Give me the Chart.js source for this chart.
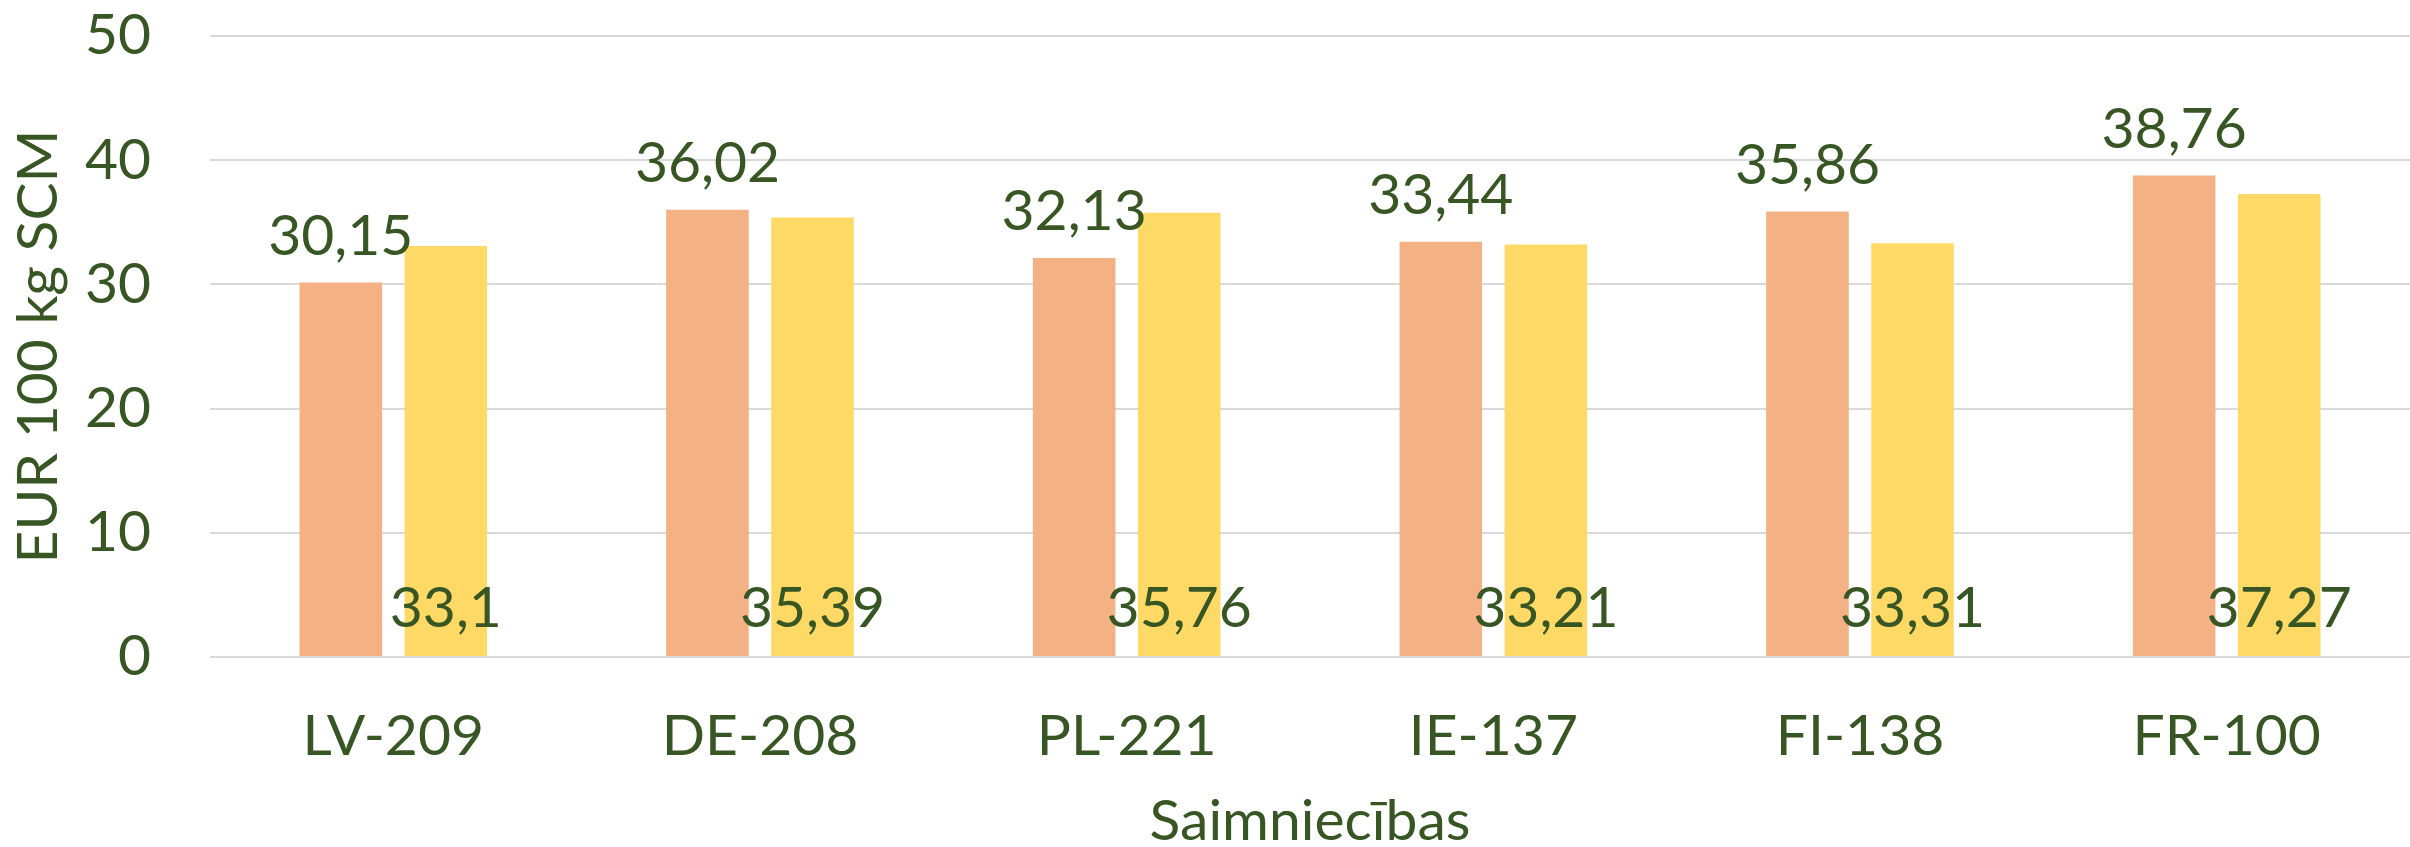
<!DOCTYPE html>
<html>
<head>
<meta charset="utf-8">
<script src="https://cdn.jsdelivr.net/npm/chart.js@4"></script>
<style>
  html, body { margin: 0; padding: 0; background: #ffffff; }
  #wrap { width: 2410px; height: 847px; }
</style>
</head>
<body>
<div id="wrap"><canvas id="chart" width="2410" height="847"></canvas></div>
<script>
// dati no attēla
const farms = ['LV-209', 'DE-208', 'PL-221', 'IE-137', 'FI-138', 'FR-100'];
const seriesA = [30.15, 36.02, 32.13, 33.44, 35.86, 38.76];
const seriesB = [33.1, 35.39, 35.76, 33.21, 33.31, 37.27];
const yTicks = [0, 10, 20, 30, 40, 50];

const textColor = '#375623';
const fontFamily = 'Lato, "Open Sans", sans-serif';

// vērtību uzraksti: pirmā sērija virs stabiņa, otrā pie pamatnes
const valueLabels = {
  id: 'valueLabels',
  afterDatasetsDraw(chart) {
    const ctx = chart.ctx;
    ctx.save();
    ctx.font = '57px ' + fontFamily;
    ctx.fillStyle = textColor;
    ctx.textAlign = 'center';
    ctx.textBaseline = 'alphabetic';
    chart.data.datasets.forEach((ds, i) => {
      const meta = chart.getDatasetMeta(i);
      meta.data.forEach((bar, j) => {
        const txt = String(ds.data[j]).replace('.', ',');
        const y = i === 0 ? bar.y - 28 : bar.base - 29;
        ctx.fillText(txt, bar.x, y);
      });
    });
    ctx.restore();
  }
};

new Chart(document.getElementById('chart'), {
  type: 'bar',
  data: {
    labels: farms,
    datasets: [
      { label: 'A', data: seriesA, backgroundColor: '#F4B183' },
      { label: 'B', data: seriesB, backgroundColor: '#FFD966' }
    ]
  },
  options: {
    responsive: false,
    animation: false,
    categoryPercentage: 0.573,
    barPercentage: 0.786,
    layout: { padding: { top: 36, right: 0, bottom: 0, left: 0 } },
    plugins: {
      legend: { display: false },
      title: { display: false },
      tooltip: { enabled: false }
    },
    scales: {
      x: {
        grid: { display: false, drawTicks: false },
        border: { display: false },
        ticks: {
          color: textColor,
          font: { family: fontFamily, size: 57 },
          padding: 45
        },
        title: {
          display: true,
          text: 'Saimniecības',
          color: textColor,
          font: { family: fontFamily, size: 57, lineHeight: 0.9 },
          padding: 0
        },
        afterFit(scale) {
          scale.height = 190;
          scale.paddingLeft = 0;
          scale.paddingRight = 0;
        }
      },
      y: {
        min: 0,
        max: 50,
        afterBuildTicks(scale) { scale.ticks = yTicks.map(v => ({ value: v })); },
        grid: { color: '#D9D9D9', lineWidth: 2, drawTicks: false },
        border: { display: false },
        ticks: {
          color: textColor,
          font: { family: fontFamily, size: 57 },
          padding: 59
        },
        title: {
          display: true,
          text: 'EUR 100 kg SCM',
          color: textColor,
          font: { family: fontFamily, size: 57 },
          padding: { top: 4, bottom: 0 }
        },
        afterFit(scale) {
          scale.width = 210;
          scale.paddingTop = 0;
          scale.paddingBottom = 0;
        }
      }
    }
  },
  plugins: [valueLabels]
});
</script>
</body>
</html>
